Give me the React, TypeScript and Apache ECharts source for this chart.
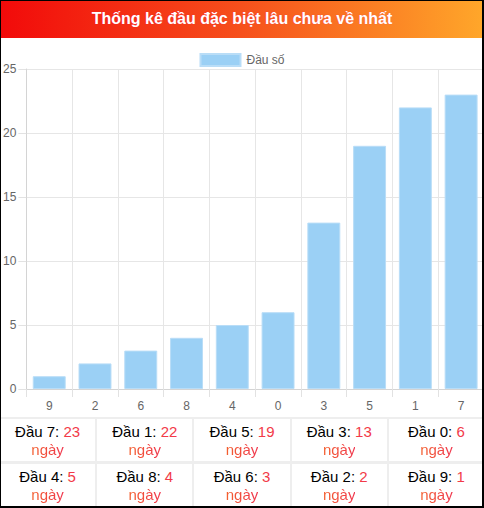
import React, { useEffect, useRef } from "react";
import * as echarts from "echarts";

const TITLE = "Thống kê đầu đặc biệt lâu chưa về nhất";
const SERIES_NAME = "Đầu số";
const categories = ["9", "2", "6", "8", "4", "0", "3", "5", "1", "7"];
const values = [1, 2, 3, 4, 5, 6, 13, 19, 22, 23];
const yTicks = [0, 5, 10, 15, 20, 25];
const UNIT = "ngày";
const LABEL_PREFIX = "Đầu";

const FONT = '"Liberation Sans", Arial, Helvetica, sans-serif';

function Chart() {
  const ref = useRef<HTMLDivElement>(null);
  useEffect(() => {
    if (!ref.current) return;
    const chart = echarts.init(ref.current, undefined, { renderer: "svg" });
    chart.setOption({
      animation: false,
      textStyle: { fontFamily: FONT },
      legend: {
        top: 10,
        left: "center",
        itemWidth: 40,
        itemHeight: 12,
        itemGap: 10,
        icon: "rect",
        textStyle: { color: "#666", fontSize: 12, fontFamily: FONT, padding: [0, 0, 0, 1] },
        data: [SERIES_NAME],
      },
      grid: { left: 26, right: 0, top: 31, bottom: 29, containLabel: false },
      xAxis: {
        type: "category",
        data: categories,
        axisLine: { show: true, lineStyle: { color: "#d4d4d4", width: 1 } },
        axisTick: { show: true, length: 8, lineStyle: { color: "#e2e2e2" } },
        axisLabel: { color: "#666", fontSize: 12, margin: 11, fontFamily: FONT },
        splitLine: { show: true, lineStyle: { color: "#e6e6e6", width: 1 } },
      },
      yAxis: {
        type: "value",
        min: yTicks[0],
        max: yTicks[yTicks.length - 1],
        interval: yTicks[1] - yTicks[0],
        axisLine: { show: true, lineStyle: { color: "#d4d4d4", width: 1 } },
        axisTick: { show: true, length: 8, lineStyle: { color: "#e2e2e2" } },
        axisLabel: { color: "#666", fontSize: 12, margin: 10, fontFamily: FONT },
        splitLine: { show: true, lineStyle: { color: "#e6e6e6", width: 1 } },
      },
      series: [
        {
          name: SERIES_NAME,
          type: "bar",
          data: values,
          barWidth: "72%",
          itemStyle: { color: "#9bd0f5", borderColor: "#b9ddf7", borderWidth: 1 },
        },
      ],
    });
    return () => chart.dispose();
  }, []);
  return <div ref={ref} style={{ width: 484, height: 380 }} />;
}

export default function App() {
  const rows = [...categories]
    .map((c, i) => ({ c, v: values[i] }))
    .reverse();
  return (
    <div
      style={{
        position: "absolute",
        left: 0,
        top: 0,
        width: 484,
        height: 508,
        background: "#fff",
        fontFamily: FONT,
        overflow: "hidden",
      }}
    >
      <div
        style={{
          height: 38,
          background: "linear-gradient(to right, #f20a0a, #f6501c 50%, #ffa72a)",
          color: "#fff",
          fontWeight: "bold",
          fontSize: 16,
          lineHeight: "38px",
          textAlign: "center",
          textShadow: "0 0 1px rgba(255,0,120,0.5)",
        }}
      >
        {TITLE}
      </div>
      <Chart />
      <div
        style={{
          position: "absolute",
          left: 0,
          top: 417,
          width: 484,
          height: 91,
          background: "#eeeeee",
          display: "grid",
          gridTemplateColumns: "repeat(5, 1fr)",
          gridTemplateRows: "42px 42px",
          columnGap: 2,
          rowGap: 3,
          paddingTop: 2,
          boxSizing: "border-box",
        }}
      >
        {rows.map((r) => (
          <div
            key={r.c}
            style={{
              background: "#fff",
              textAlign: "center",
              fontSize: 15,
              lineHeight: "17.5px",
              paddingTop: 4,
              color: "#000",
            }}
          >
            <div>
              {LABEL_PREFIX} {r.c}: <span style={{ color: "#f23a48" }}>{r.v}</span>
            </div>
            <div>
              <span
                style={{
                  background: "linear-gradient(90deg, #f3602e, #f0364e)",
                  WebkitBackgroundClip: "text",
                  backgroundClip: "text",
                  color: "transparent",
                }}
              >
                {UNIT}
              </span>
            </div>
          </div>
        ))}
      </div>
      <div
        style={{
          position: "absolute",
          left: 0,
          top: 0,
          width: 484,
          height: 508,
          boxSizing: "border-box",
          borderTop: "1px solid #000",
          borderLeft: "1px solid #000",
          borderRight: "2px solid #000",
          borderBottom: "2px solid #000",
          pointerEvents: "none",
        }}
      />
    </div>
  );
}
